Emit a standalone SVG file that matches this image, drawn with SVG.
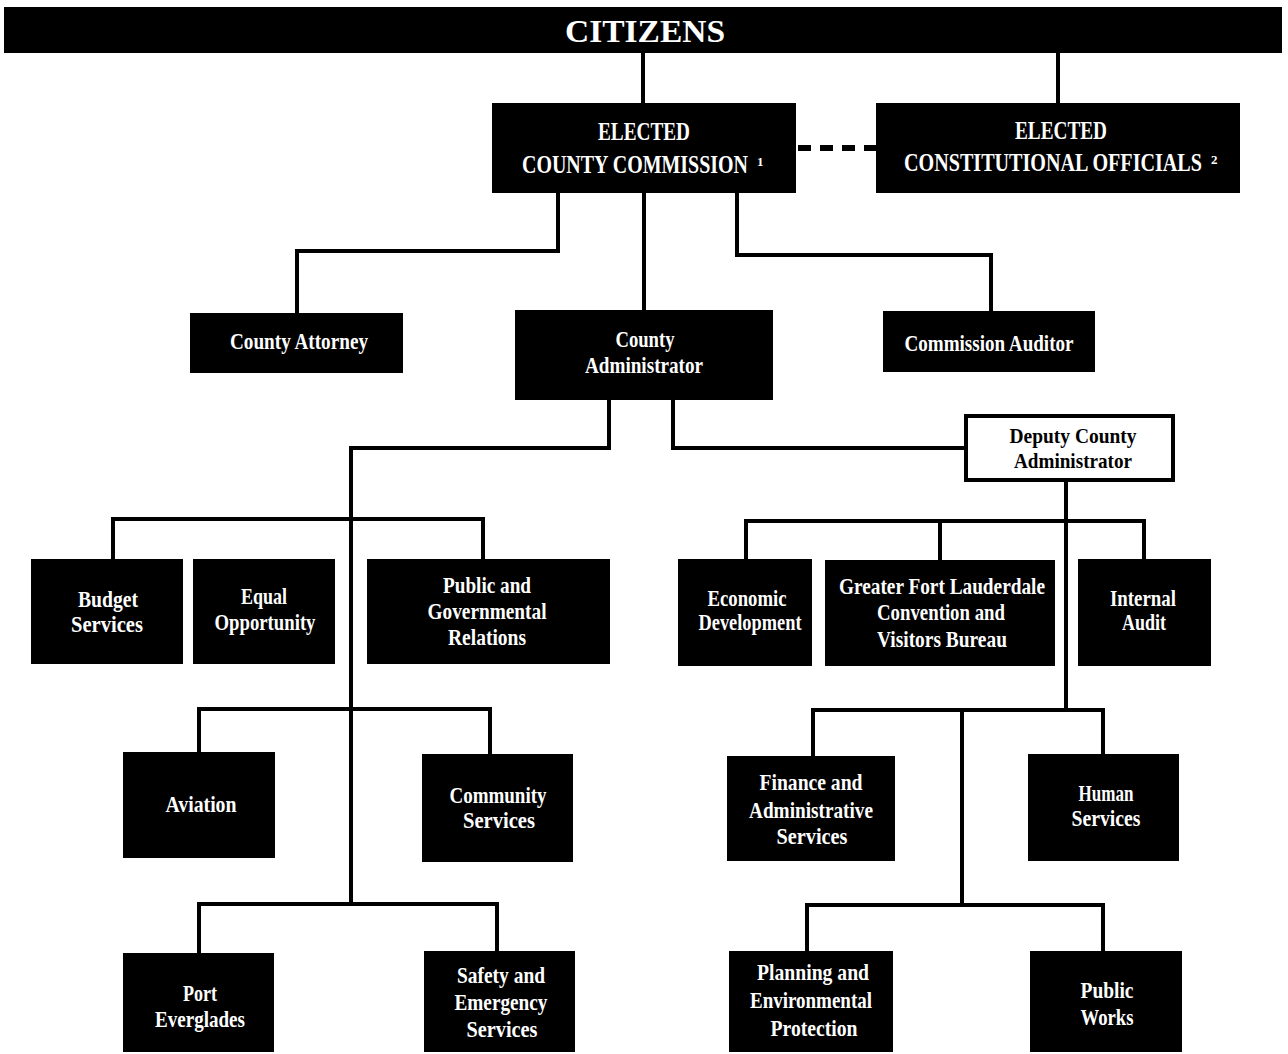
<svg xmlns="http://www.w3.org/2000/svg" width="1288" height="1054" viewBox="0 0 1288 1054">
<style>
.b{fill:#000}
.t{font-family:"Liberation Serif","Times New Roman",serif;font-weight:bold;fill:#fff;text-anchor:middle;font-size:24px}
.d{fill:#000;font-size:22px}
.h{font-size:32px}
.e{font-size:25px}
.l{text-anchor:start}
.c{fill:none;stroke:#000;stroke-width:4}
.s{font-size:13px}
</style>
<rect width="1288" height="1054" fill="#fff"/>
<g id="connectors" class="c">
<path d="M643 53V103"/>
<path d="M1058 53V103"/>
<path d="M798 148H876" stroke-width="6" stroke-dasharray="13 9"/>
<path d="M558 193V251H297V313"/>
<path d="M644 193V310"/>
<path d="M737 193V255H991V311"/>
<path d="M609 400V448H351V904"/>
<path d="M673 400V448H964"/>
<path d="M1066 482V710"/>
<path d="M113 559V519H483V559"/>
<path d="M199 752V709H490V754"/>
<path d="M199 953V904H497V951"/>
<path d="M746 559V521H1144V559M940 521V560"/>
<path d="M813 756V710H1103V754M962 710V905"/>
<path d="M807 951V905H1103V951"/>
</g>
<g id="citizens"><rect class="b" x="4" y="7" width="1278" height="46"/><text class="t h" x="645" y="42" textLength="160" lengthAdjust="spacingAndGlyphs">CITIZENS</text></g>
<g id="commission"><rect class="b" x="492" y="103" width="304" height="90"/>
<text class="t e" x="644" y="140" textLength="92" lengthAdjust="spacingAndGlyphs">ELECTED</text>
<text class="t e l" transform="scale(0.8 1)" x="652.5" y="173" textLength="282.5" lengthAdjust="spacingAndGlyphs">COUNTY COMMISSION</text>
<text class="t s l" x="757" y="166">1</text></g>
<g id="constitutional"><rect class="b" x="876" y="103" width="364" height="90"/>
<text class="t e" x="1061" y="139" textLength="92" lengthAdjust="spacingAndGlyphs">ELECTED</text>
<text class="t e l" transform="scale(0.8 1)" x="1130" y="171" textLength="372.5" lengthAdjust="spacingAndGlyphs">CONSTITUTIONAL OFFICIALS</text>
<text class="t s l" x="1211" y="164">2</text></g>
<g id="attorney"><rect class="b" x="190" y="313" width="213" height="60"/><text class="t" x="299" y="349" textLength="138" lengthAdjust="spacingAndGlyphs">County Attorney</text></g>
<g id="administrator"><rect class="b" x="515" y="310" width="258" height="90"/><text class="t" x="645" y="347" textLength="59" lengthAdjust="spacingAndGlyphs">County</text><text class="t" x="644" y="373" textLength="118" lengthAdjust="spacingAndGlyphs">Administrator</text></g>
<g id="auditor"><rect class="b" x="883" y="311" width="212" height="61"/><text class="t" x="989" y="351" textLength="169" lengthAdjust="spacingAndGlyphs">Commission Auditor</text></g>
<g id="deputy"><rect x="966" y="416" width="207" height="64" fill="#fff" stroke="#000" stroke-width="4"/><text class="t d" x="1073" y="443" textLength="127" lengthAdjust="spacingAndGlyphs">Deputy County</text><text class="t d" x="1073" y="468" textLength="118" lengthAdjust="spacingAndGlyphs">Administrator</text></g>
<g id="budget"><rect class="b" x="31" y="559" width="152" height="105"/><text class="t" x="108" y="607" textLength="60" lengthAdjust="spacingAndGlyphs">Budget</text><text class="t" x="107" y="632" textLength="72" lengthAdjust="spacingAndGlyphs">Services</text></g>
<g id="equal"><rect class="b" x="193" y="559" width="142" height="105"/><text class="t" x="264" y="604" textLength="46" lengthAdjust="spacingAndGlyphs">Equal</text><text class="t" x="265" y="630" textLength="101" lengthAdjust="spacingAndGlyphs">Opportunity</text></g>
<g id="public-relations"><rect class="b" x="367" y="559" width="243" height="105"/><text class="t" x="487" y="593" textLength="88" lengthAdjust="spacingAndGlyphs">Public and</text><text class="t" x="487" y="619" textLength="119" lengthAdjust="spacingAndGlyphs">Governmental</text><text class="t" x="487" y="645" textLength="78" lengthAdjust="spacingAndGlyphs">Relations</text></g>
<g id="economic"><rect class="b" x="678" y="559" width="134" height="107"/><text class="t" x="747" y="606" textLength="79" lengthAdjust="spacingAndGlyphs">Economic</text><text class="t" x="750" y="630" textLength="103" lengthAdjust="spacingAndGlyphs">Development</text></g>
<g id="convention"><rect class="b" x="825" y="560" width="230" height="106"/><text class="t" x="942" y="594" textLength="206" lengthAdjust="spacingAndGlyphs">Greater Fort Lauderdale</text><text class="t" x="941" y="620" textLength="128" lengthAdjust="spacingAndGlyphs">Convention and</text><text class="t" x="942" y="647" textLength="130" lengthAdjust="spacingAndGlyphs">Visitors Bureau</text></g>
<g id="internal-audit"><rect class="b" x="1078" y="559" width="133" height="107"/><text class="t" x="1143" y="606" textLength="66" lengthAdjust="spacingAndGlyphs">Internal</text><text class="t" x="1144" y="630" textLength="44" lengthAdjust="spacingAndGlyphs">Audit</text></g>
<g id="aviation"><rect class="b" x="123" y="752" width="152" height="106"/><text class="t" x="201" y="812" textLength="71" lengthAdjust="spacingAndGlyphs">Aviation</text></g>
<g id="community"><rect class="b" x="422" y="754" width="151" height="108"/><text class="t" x="498" y="803" textLength="97" lengthAdjust="spacingAndGlyphs">Community</text><text class="t" x="499" y="828" textLength="72" lengthAdjust="spacingAndGlyphs">Services</text></g>
<g id="finance"><rect class="b" x="727" y="756" width="168" height="105"/><text class="t" x="811" y="790" textLength="103" lengthAdjust="spacingAndGlyphs">Finance and</text><text class="t" x="811" y="818" textLength="124" lengthAdjust="spacingAndGlyphs">Administrative</text><text class="t" x="812" y="844" textLength="71" lengthAdjust="spacingAndGlyphs">Services</text></g>
<g id="human"><rect class="b" x="1028" y="754" width="151" height="107"/><text class="t" x="1106" y="801" textLength="55" lengthAdjust="spacingAndGlyphs">Human</text><text class="t" x="1106" y="826" textLength="69" lengthAdjust="spacingAndGlyphs">Services</text></g>
<g id="port"><rect class="b" x="123" y="953" width="151" height="99"/><text class="t" x="200" y="1001" textLength="34" lengthAdjust="spacingAndGlyphs">Port</text><text class="t" x="200" y="1027" textLength="90" lengthAdjust="spacingAndGlyphs">Everglades</text></g>
<g id="safety"><rect class="b" x="424" y="951" width="151" height="101"/><text class="t" x="501" y="983" textLength="88" lengthAdjust="spacingAndGlyphs">Safety and</text><text class="t" x="501" y="1010" textLength="93" lengthAdjust="spacingAndGlyphs">Emergency</text><text class="t" x="502" y="1037" textLength="71" lengthAdjust="spacingAndGlyphs">Services</text></g>
<g id="planning"><rect class="b" x="729" y="951" width="164" height="101"/><text class="t" x="813" y="980" textLength="112" lengthAdjust="spacingAndGlyphs">Planning and</text><text class="t" x="811" y="1008" textLength="122" lengthAdjust="spacingAndGlyphs">Environmental</text><text class="t" x="814" y="1036" textLength="87" lengthAdjust="spacingAndGlyphs">Protection</text></g>
<g id="public-works"><rect class="b" x="1030" y="951" width="152" height="101"/><text class="t" x="1107" y="998" textLength="53" lengthAdjust="spacingAndGlyphs">Public</text><text class="t" x="1107" y="1025" textLength="53" lengthAdjust="spacingAndGlyphs">Works</text></g>
</svg>
